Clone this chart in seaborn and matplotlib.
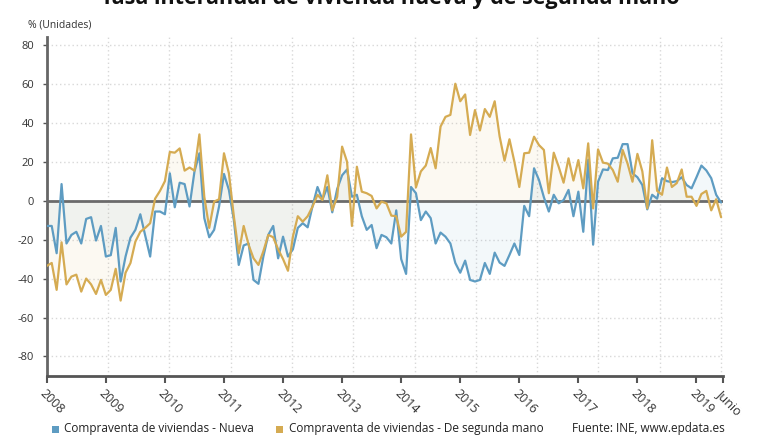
import numpy as np
import pandas as pd
import seaborn as sns
from matplotlib import pyplot as plt
from matplotlib.patches import Rectangle

# tasa interanual (%) mensual, enero 2008 - junio 2019
nueva = [-13, -13, -27, 8.5, -22, -17.6, -16, -22, -9.4, -8.5, -20.5, -13,
         -28.7, -28, -14, -41.5, -28.7, -19, -15, -7, -18, -28.7, -5.6, -5.6,
         -7, 14, -3.4, 9.2, 8.5, -3, 14.9, 24.3, -9, -18.8, -15, -3,
         13.7, 5.5, -10, -33, -23, -22, -40.7, -42.7, -28.7, -17.6, -13, -29.6,
         -18.5, -28.7, -25, -14, -11.6, -13.7, -2.7, 7, 0.5, 7, -6, 6,
         13, 16, 2, 3, -8, -15, -12.5, -24.4, -17.6, -18.8, -22, -5,
         -30, -37.6, 7, 3.8, -10, -5.6, -9, -22, -16.4, -18.5, -22, -32,
         -37, -30.8, -40.7, -41.5, -40.7, -32, -37.6, -26.7, -31.8, -33.5, -27.9, -22,
         -27.9, -2.7, -8, 16.6, 10.6, 1.7, -5.6, 3, -1.4, 0.3, 5.5, -8,
         4.6, -16, 21, -22.6, 9.7, 16, 15.7, 21.7, 22, 29, 29, 14,
         12, 8, -4.5, 3, 1, 11.5, 10, 9.5, 10, 12, 8, 6.3,
         12, 18, 15.5, 11.5, 3, -1]

segunda = [-33.5, -32, -45.8, -21.4, -43, -39, -38, -46.7, -40, -43, -47.9, -40.7,
           -48.4, -45.8, -35, -51.3, -37, -32, -21, -16, -14, -11.6, 1, 5,
           10, 25, 24.6, 26.8, 15.4, 17, 15.4, 34, 2, -14, -0.5, 0.7,
           24.3, 14, -8, -27, -13, -22.7, -29.6, -33, -26, -17.6, -18.8, -25,
           -30, -36, -18.5, -8, -10.8, -8, -3, 3, 0.3, 13, -5, 2,
           27.7, 20, -13, 17.4, 4.6, 3.8, 2.4, -4, -0.5, -1.4, -7.7, -8,
           -18.5, -16, 34, 6.8, 15, 18, 27, 16.6, 38, 43, 44, 60,
           51, 54.5, 33.7, 46.5, 36, 47, 43, 51, 33, 20.5, 31.5, 20,
           7, 24.3, 24.6, 32.8, 28.5, 26, 3.8, 24.6, 17.4, 9.2, 21.7, 10.3,
           20.8, 6.3, 29.4, -4, 26.3, 19.5, 19, 15.7, 9.7, 26, 19, 9.7,
           24, 15, -4, 31, 5, 3, 17, 7, 9, 16, 2, 2,
           -2.7, 3.4, 5, -5, 0.7, -8.5]

years = ["2008", "2009", "2010", "2011", "2012", "2013",
         "2014", "2015", "2016", "2017", "2018", "2019"]

azul = "#5e9cc2"
oro = "#d5ab52"

df = pd.DataFrame({"mes": np.arange(len(nueva)), "nueva": nueva, "segunda": segunda})

sns.set_theme(style="white")
plt.rcParams['font.family'] = ['Open Sans', 'DejaVu Sans']

fig = plt.figure(figsize=(7.8, 4.4), dpi=100)
ax = fig.add_axes([0.060, 0.1455, 0.867, 0.7705])

ax.fill_between(df["mes"], 0, df["nueva"], color=azul, alpha=0.07, lw=0)
ax.fill_between(df["mes"], 0, df["segunda"], color=oro, alpha=0.07, lw=0)
ax.axhline(0, color="#6b6b6b", lw=2, zorder=3)
sns.lineplot(data=df, x="mes", y="nueva", color=azul, lw=1.6, ax=ax, zorder=4)
sns.lineplot(data=df, x="mes", y="segunda", color=oro, lw=1.6, ax=ax, zorder=4)

last = len(nueva) - 1
ax.set_xlim(0, last + 0.4)
ax.set_ylim(-90, 84)
ax.set_xlabel("")
ax.set_ylabel("")

# rejilla
for v in np.arange(-80, 81, 20):
    ax.axhline(v, color="#d8d8d8", lw=1, ls=(0, (1, 2)), zorder=0)
for gx in np.linspace(0, last, 12)[1:]:
    ax.axvline(gx, color="#d8d8d8", lw=1, ls=(0, (1, 2)), zorder=0)

ax.set_yticks(np.arange(-80, 81, 20))
ax.set_yticklabels([str(v) for v in np.arange(-80, 81, 20)],
                   fontsize=8, color="#333333")
ax.set_xticks(list(np.arange(0, 133, 12)) + [last + 0.4])
ax.set_xticklabels(years + ["Junio"], rotation=-45, ha="left", va="top",
                   rotation_mode="anchor", fontsize=9, color="#333333")
ax.tick_params(axis="x", length=5, width=1.5, color="#555555", pad=3, direction="out", bottom=True)
ax.tick_params(axis="y", length=3, width=1, color="#555555", pad=6, left=True)

for s in ["top", "right"]:
    ax.spines[s].set_visible(False)
ax.spines["left"].set_color("#666666")
ax.spines["left"].set_linewidth(2)
ax.spines["bottom"].set_color("#555555")
ax.spines["bottom"].set_linewidth(2)

fig.text(0.5, 0.991, "Tasa interanual de vivienda nueva y de segunda mano",
         ha="center", va="baseline", fontsize=15.5, weight="bold", color="#111111")
fig.text(0.036, 0.943, "% (Unidades)", fontsize=7.5, color="#333333", va="center")

# leyenda
ly = 1 - 428 / 440
fig.add_artist(Rectangle((52 / 780, ly - 0.011), 0.009, 0.016, transform=fig.transFigure,
                         color=azul, lw=0))
fig.text(64 / 780, ly, "Compraventa de viviendas - Nueva", fontsize=8.5, color="#222222", va="center")
fig.add_artist(Rectangle((276 / 780, ly - 0.011), 0.009, 0.016, transform=fig.transFigure,
                         color=oro, lw=0))
fig.text(289 / 780, ly, "Compraventa de viviendas - De segunda mano", fontsize=8.5,
         color="#222222", va="center")
fig.text(572 / 780, ly, "Fuente: INE, www.epdata.es", fontsize=8.5, color="#222222", va="center")

fig.savefig("out.png", dpi=100, facecolor="white")
